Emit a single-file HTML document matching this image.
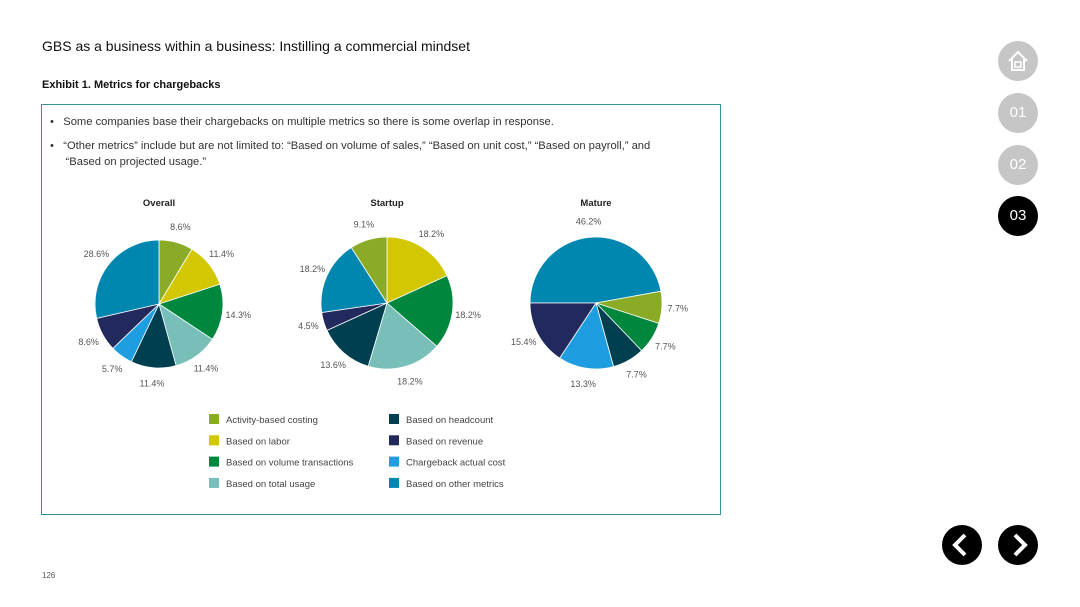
<!DOCTYPE html>
<html><head><meta charset="utf-8"><style>
body{margin:0;width:1080px;height:607px;background:#fff;font-family:"Liberation Sans",sans-serif;position:relative;overflow:hidden}
.t{position:absolute;white-space:nowrap}
.nav{position:absolute;width:40px;height:40px;border-radius:50%;background:#c6c6c6;color:#fff;font-size:15px;text-align:center;line-height:40px}
</style></head><body>
<div class="t" style="left:42px;top:38px;font-size:14px;color:#111">GBS as a business within a business: Instilling a commercial mindset</div>
<div class="t" style="left:42px;top:79px;font-size:11px;font-weight:bold;color:#111">Exhibit 1. Metrics for chargebacks</div>
<div style="position:absolute;left:41px;top:104px;width:678px;height:409px;border:1.5px solid #3a9195"></div>
<div class="t" style="left:50px;top:116px;font-size:11.2px;color:#333">•&nbsp;&nbsp; Some companies base their chargebacks on multiple metrics so there is some overlap in response.</div>
<div class="t" style="left:50px;top:138px;font-size:11.2px;color:#333;line-height:16px">•&nbsp;&nbsp; “Other metrics” include but are not limited to: “Based on volume of sales,” “Based on unit cost,” “Based on payroll,” and<br>&nbsp;&nbsp;&nbsp;&nbsp; “Based on projected usage.”</div>
<svg id="chart" width="1080" height="607" style="position:absolute;left:0;top:0"></svg>
<div class="nav" style="left:998px;top:41px">
<svg width="40" height="40"><path d="M11 20 L20 11 L29 20 M14 18 V29 H26 V18" fill="none" stroke="#fff" stroke-width="2"/><rect x="17" y="21" width="6" height="5" fill="none" stroke="#fff" stroke-width="1.5"/></svg></div>
<div class="nav" style="left:998px;top:93px">01</div>
<div class="nav" style="left:998px;top:145px">02</div>
<div class="nav" style="left:998px;top:196px;background:#000">03</div>
<div class="nav" style="left:942px;top:525px;background:#000"><svg width="40" height="40"><path d="M23 10 L13 20 L23 30" fill="none" stroke="#fff" stroke-width="4"/></svg></div>
<div class="nav" style="left:998px;top:525px;background:#000"><svg width="40" height="40"><path d="M17 10 L27 20 L17 30" fill="none" stroke="#fff" stroke-width="4"/></svg></div>
<div class="t" style="left:42px;top:571px;font-size:8px;color:#555">126</div>
<script>
const categories=["Activity-based costing","Based on labor","Based on volume transactions","Based on total usage","Based on headcount","Based on revenue","Chargeback actual cost","Based on other metrics"];
const colors=["#8aab26","#d2c700","#00873e","#77bfb8","#003f50","#22295c","#1e9ee0","#0087b0"];
const overallOrder=[0,1,2,3,4,6,5,7];
const overallValues=[8.6,11.4,14.3,11.4,11.4,5.7,8.6,28.6];
const startupOrder=[1,2,3,4,5,7,0];
const startupValues=[18.2,18.2,18.2,13.6,4.5,18.2,9.1];
const matureOrder=[7,0,2,4,6,5];
const matureValues=[46.2,7.7,7.7,7.7,13.3,15.4];
const svg=document.getElementById('chart');
const NS="http://www.w3.org/2000/svg";
function pie(name,title,cx,cy,r,startDeg,order,vals){
  const tt=document.createElementNS(NS,'text');
  
  
  tt.setAttribute('x',cx);tt.setAttribute('y',206);tt.setAttribute('text-anchor','middle');
  tt.setAttribute('font-size','9.5');tt.setAttribute('font-weight','bold');tt.setAttribute('fill','#222');
  tt.textContent=title;svg.appendChild(tt);
  const tot=vals.reduce((a,b)=>a+b,0);
  let a=startDeg*Math.PI/180;
  vals.forEach((v,i)=>{
    const da=v/tot*2*Math.PI, a2=a+da;
    const p=(t,rr)=>[cx+rr*Math.sin(t),cy-rr*Math.cos(t)];
    const [x1,y1]=p(a,r),[x2,y2]=p(a2,r);
    const path=document.createElementNS(NS,'path');
    
    
    path.setAttribute('d',`M${cx},${cy} L${x1},${y1} A${r},${r} 0 ${da>Math.PI?1:0} 1 ${x2},${y2} Z`);
    path.setAttribute('fill',colors[order[i]]);path.setAttribute('stroke','#fff');path.setAttribute('stroke-width','0.8');
    svg.appendChild(path);
    const m=(a+a2)/2,[lx,ly]=p(m,r+16);
    const lb=document.createElementNS(NS,'text');
    
    
    lb.setAttribute('x',lx);lb.setAttribute('y',ly+3);lb.setAttribute('text-anchor','middle');
    lb.setAttribute('font-size','9');lb.setAttribute('fill','#555');
    lb.textContent=v.toFixed(1)+'%';svg.appendChild(lb);
    a=a2;
  });
}
pie('overall','Overall',159,304,64,0,overallOrder,overallValues);
pie('startup','Startup',387,303,66,0,startupOrder,startupValues);
pie('mature','Mature',596,303,66,-90,matureOrder,matureValues);
const legendOrder=[0,1,2,3,4,5,6,7];
legendOrder.forEach((c,i)=>{
  const col=Math.floor(i/4),row=i%4,x=209+col*180,y=414+row*21.3;
  const r=document.createElementNS(NS,'rect');
  
  
  r.setAttribute('x',x);r.setAttribute('y',y);r.setAttribute('width',10);r.setAttribute('height',10);r.setAttribute('fill',colors[c]);
  svg.appendChild(r);
  const t=document.createElementNS(NS,'text');
  
  
  t.setAttribute('x',x+17);t.setAttribute('y',y+9);t.setAttribute('font-size','9.5');t.setAttribute('fill','#444');
  t.textContent=categories[c];svg.appendChild(t);
});
</script>
</body></html>
